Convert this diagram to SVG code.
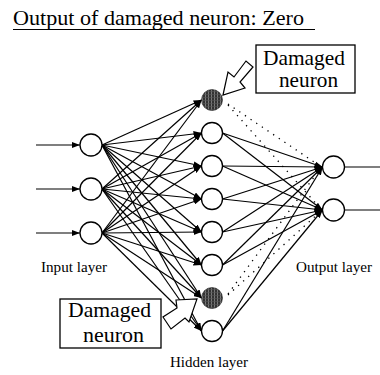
<svg xmlns="http://www.w3.org/2000/svg" width="380" height="375" viewBox="0 0 380 375" font-family="'Liberation Serif', 'DejaVu Serif', serif">
  <style>
    text { font-family: "Liberation Serif", "DejaVu Serif", serif; fill: #000; }
    .title { font-size: 22px; }
    .box { font-size: 21.5px; }
    .lbl { font-size: 15px; }
    .node { fill: #fff; stroke: #000; stroke-width: 1.3; }
    .dmg { fill: url(#hatch); stroke: #222; stroke-width: 0.6; }
    .edge { stroke: #000; stroke-width: 1.2; fill: none; }
    .arr { marker-end: url(#ah); }
    .dot { stroke: #000; stroke-width: 1.3; stroke-dasharray: 1.3 5.5; fill: none; }
    .frame { fill: #fff; stroke: #000; stroke-width: 1.3; }
    .callout { fill: #fff; stroke: #000; stroke-width: 1.2; stroke-linejoin: miter; }
  </style>
  <defs>
    <marker id="ah" viewBox="0 0 8 6" refX="8" refY="3" markerWidth="8" markerHeight="6" markerUnits="userSpaceOnUse" orient="auto">
      <path d="M0,0 L8,3 L0,6 z" fill="#000"/>
    </marker>
    <pattern id="hatch" patternUnits="userSpaceOnUse" width="3" height="3">
      <rect width="3" height="3" fill="#333"/>
      <line x1="1.5" y1="0" x2="1.5" y2="3" stroke="#8a8a8a" stroke-width="0.8"/>
      <line x1="0" y1="1.5" x2="3" y2="1.5" stroke="#555" stroke-width="0.6"/>
    </pattern>
  </defs>

  <!-- heading -->
  <g id="heading">
    <text class="title" x="13" y="25" textLength="291" lengthAdjust="spacingAndGlyphs">Output of damaged neuron: Zero</text>
    <line x1="13" y1="29.5" x2="315" y2="29.5" stroke="#000" stroke-width="1.2"/>
  </g>

  <!-- connectors -->
  <g id="connectors">
    <!-- external inputs -->
    <line class="edge arr" x1="36" y1="145" x2="80" y2="145"/>
    <line class="edge arr" x1="36" y1="189" x2="80" y2="189"/>
    <line class="edge arr" x1="36" y1="233" x2="80" y2="233"/>
    <!-- input 1 to hidden -->
    <line class="edge arr" x1="102" y1="145" x2="201.5" y2="100"/>
    <line class="edge arr" x1="102" y1="145" x2="201.5" y2="133"/>
    <line class="edge arr" x1="102" y1="145" x2="201.5" y2="166"/>
    <line class="edge arr" x1="102" y1="145" x2="201.5" y2="199"/>
    <line class="edge arr" x1="102" y1="145" x2="201.5" y2="232"/>
    <line class="edge arr" x1="102" y1="145" x2="201.5" y2="265"/>
    <line class="edge arr" x1="102" y1="145" x2="201.5" y2="298"/>
    <line class="edge arr" x1="102" y1="145" x2="201.5" y2="331"/>
    <!-- input 2 to hidden -->
    <line class="edge arr" x1="102" y1="189" x2="201.5" y2="100"/>
    <line class="edge arr" x1="102" y1="189" x2="201.5" y2="133"/>
    <line class="edge arr" x1="102" y1="189" x2="201.5" y2="166"/>
    <line class="edge arr" x1="102" y1="189" x2="201.5" y2="199"/>
    <line class="edge arr" x1="102" y1="189" x2="201.5" y2="232"/>
    <line class="edge arr" x1="102" y1="189" x2="201.5" y2="265"/>
    <line class="edge arr" x1="102" y1="189" x2="201.5" y2="298"/>
    <line class="edge arr" x1="102" y1="189" x2="201.5" y2="331"/>
    <!-- input 3 to hidden -->
    <line class="edge arr" x1="102" y1="233" x2="201.5" y2="100"/>
    <line class="edge arr" x1="102" y1="233" x2="201.5" y2="133"/>
    <line class="edge arr" x1="102" y1="233" x2="201.5" y2="166"/>
    <line class="edge arr" x1="102" y1="233" x2="201.5" y2="199"/>
    <line class="edge arr" x1="102" y1="233" x2="201.5" y2="232"/>
    <line class="edge arr" x1="102" y1="233" x2="201.5" y2="265"/>
    <line class="edge arr" x1="102" y1="233" x2="201.5" y2="298"/>
    <line class="edge arr" x1="102" y1="233" x2="201.5" y2="331"/>
    <!-- working hidden neurons to output -->
    <line class="edge arr" x1="222.5" y1="133" x2="322.5" y2="167"/>
    <line class="edge arr" x1="222.5" y1="133" x2="322.5" y2="210"/>
    <line class="edge arr" x1="222.5" y1="166" x2="322.5" y2="167"/>
    <line class="edge arr" x1="222.5" y1="166" x2="322.5" y2="210"/>
    <line class="edge arr" x1="222.5" y1="199" x2="322.5" y2="167"/>
    <line class="edge arr" x1="222.5" y1="199" x2="322.5" y2="210"/>
    <line class="edge arr" x1="222.5" y1="232" x2="322.5" y2="167"/>
    <line class="edge arr" x1="222.5" y1="232" x2="322.5" y2="210"/>
    <line class="edge arr" x1="222.5" y1="265" x2="322.5" y2="167"/>
    <line class="edge arr" x1="222.5" y1="265" x2="322.5" y2="210"/>
    <line class="edge arr" x1="222.5" y1="331" x2="322.5" y2="167"/>
    <line class="edge arr" x1="222.5" y1="331" x2="322.5" y2="210"/>
    <!-- damaged neurons give zero output -->
    <line class="dot" x1="228" y1="104" x2="320" y2="166"/>
    <line class="dot" x1="228" y1="105" x2="320" y2="208"/>
    <line class="dot" x1="228" y1="294" x2="320" y2="169"/>
    <line class="dot" x1="228" y1="295" x2="320" y2="212"/>
    <!-- outputs -->
    <line class="edge" x1="344.5" y1="167" x2="380" y2="167"/>
    <line class="edge" x1="344.5" y1="210" x2="380" y2="210"/>
  </g>

  <!-- input layer -->
  <g id="in1"><circle class="node" cx="91" cy="145" r="11"/></g>
  <g id="in2"><circle class="node" cx="91" cy="189" r="11"/></g>
  <g id="in3"><circle class="node" cx="91" cy="233" r="11"/></g>

  <!-- hidden layer -->
  <g id="h1"><circle class="dmg" cx="212" cy="100" r="10.5"/></g>
  <g id="h2"><circle class="node" cx="212" cy="133" r="10.5"/></g>
  <g id="h3"><circle class="node" cx="212" cy="166" r="10.5"/></g>
  <g id="h4"><circle class="node" cx="212" cy="199" r="10.5"/></g>
  <g id="h5"><circle class="node" cx="212" cy="232" r="10.5"/></g>
  <g id="h6"><circle class="node" cx="212" cy="265" r="10.5"/></g>
  <g id="h7"><circle class="dmg" cx="212" cy="298" r="10.5"/></g>
  <g id="h8"><circle class="node" cx="212" cy="331" r="10.5"/></g>

  <!-- output layer -->
  <g id="out1"><circle class="node" cx="333.5" cy="167" r="11"/></g>
  <g id="out2"><circle class="node" cx="333.5" cy="210" r="11"/></g>

  <!-- layer names -->
  <g id="labels">
    <text class="lbl" x="41" y="272" textLength="66" lengthAdjust="spacingAndGlyphs">Input layer</text>
    <text class="lbl" x="296" y="272" textLength="76" lengthAdjust="spacingAndGlyphs">Output layer</text>
    <text class="lbl" x="170" y="367" textLength="78" lengthAdjust="spacingAndGlyphs">Hidden layer</text>
  </g>

  <!-- callout for upper damaged neuron -->
  <g id="callout-top">
    <polygon class="callout" points="223,95 228,72 234,77 246,61 253,67 240,82 245,88"/>
    <rect class="frame" x="256" y="45" width="99" height="48"/>
    <text class="box" x="263" y="65" textLength="82" lengthAdjust="spacingAndGlyphs">Damaged</text>
    <text class="box" x="279" y="87" textLength="59" lengthAdjust="spacingAndGlyphs">neuron</text>
  </g>

  <!-- callout for lower damaged neuron -->
  <g id="callout-bottom">
    <polygon class="callout" points="176,300 197,299 189,322 185,318 171,329 163,317 177,308"/>
    <rect class="frame" x="60" y="299" width="101" height="49"/>
    <text class="box" x="68" y="317" textLength="83" lengthAdjust="spacingAndGlyphs">Damaged</text>
    <text class="box" x="83" y="342" textLength="61" lengthAdjust="spacingAndGlyphs">neuron</text>
  </g>
</svg>
